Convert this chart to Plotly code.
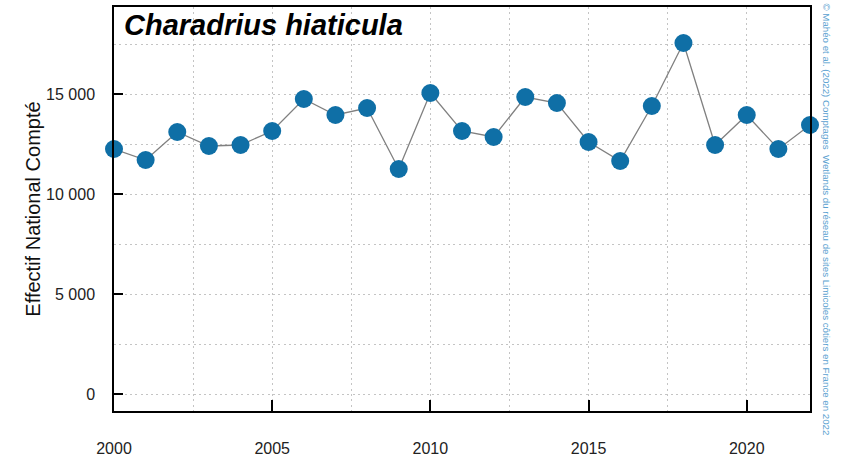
import plotly.graph_objects as go

years = list(range(2000, 2023))
counts = [12250, 11700, 13100, 12400, 12450, 13150, 14750, 13950, 14300, 11250,
          15050, 13150, 12850, 14850, 14550, 12600, 11650, 14400, 17550, 12450,
          13950, 12250, 13450]
species = "Charadrius hiaticula"
y_title = "Effectif National Compté"
credit = "© Mahéo et al. (2022) Comptages  Wetlands du réseau de sites Limicoles côtiers en France en 2022"

fig = go.Figure()
fig.add_trace(go.Scatter(
    x=years, y=counts, mode="lines+markers",
    line=dict(color="#808080", width=1.3),
    marker=dict(color="#0f6fa6", size=18, line=dict(width=0)),
    cliponaxis=False, showlegend=False, hoverinfo="skip",
))

font_family = "Liberation Sans, Arial, sans-serif"
grid = dict(showgrid=True, gridcolor="#c4c4c4", griddash="2px,3.3px", gridwidth=1)
fig.update_layout(
    width=845, height=459,
    margin=dict(l=114, r=35, t=7, b=48, autoexpand=False),
    paper_bgcolor="white", plot_bgcolor="white",
    separators=". ",
    font=dict(family=font_family, size=16, color="#222222"),
    xaxis=dict(
        range=[2000, 2022], dtick=5, tick0=2000, automargin=False,
        ticks="inside", ticklen=11, tickwidth=1.5, tickcolor="black",
        ticklabelstandoff=22,
        showline=True, linecolor="black", linewidth=1.5, mirror=True,
        minor=dict(dtick=2.5, tick0=2000, **grid),
        zeroline=False, tickfont=dict(size=16, color="#222222"),
        **grid,
    ),
    yaxis=dict(
        range=[-850, 19350], dtick=5000, tick0=0, tickformat=",d", automargin=False,
        ticks="inside", ticklen=9, tickwidth=1.5, tickcolor="black",
        ticklabelstandoff=14,
        showline=True, linecolor="black", linewidth=1.5, mirror=True,
        minor=dict(dtick=2500, tick0=0, **grid),
        zeroline=False, tickfont=dict(size=16, color="#222222"),
        title=dict(text=y_title, font=dict(size=20, color="#111111"), standoff=0),
        **grid,
    ),
)

fig.add_annotation(
    text=f"<b><i>{species}</i></b>", xref="paper", yref="paper",
    x=0.011, y=1.0, xanchor="left", yanchor="top", yshift=0,
    showarrow=False, font=dict(size=29, color="black", family=font_family),
)
fig.add_annotation(
    text=credit, xref="paper", yref="paper",
    x=1.0, y=1.0, xanchor="left", yanchor="top", xshift=9, yshift=6,
    textangle=90, showarrow=False,
    font=dict(size=9.7, color="#5a9fd0", family=font_family),
)

fig.write_html("out.html", config={"displayModeBar": False},
               post_script="document.body.style.margin='0';")
